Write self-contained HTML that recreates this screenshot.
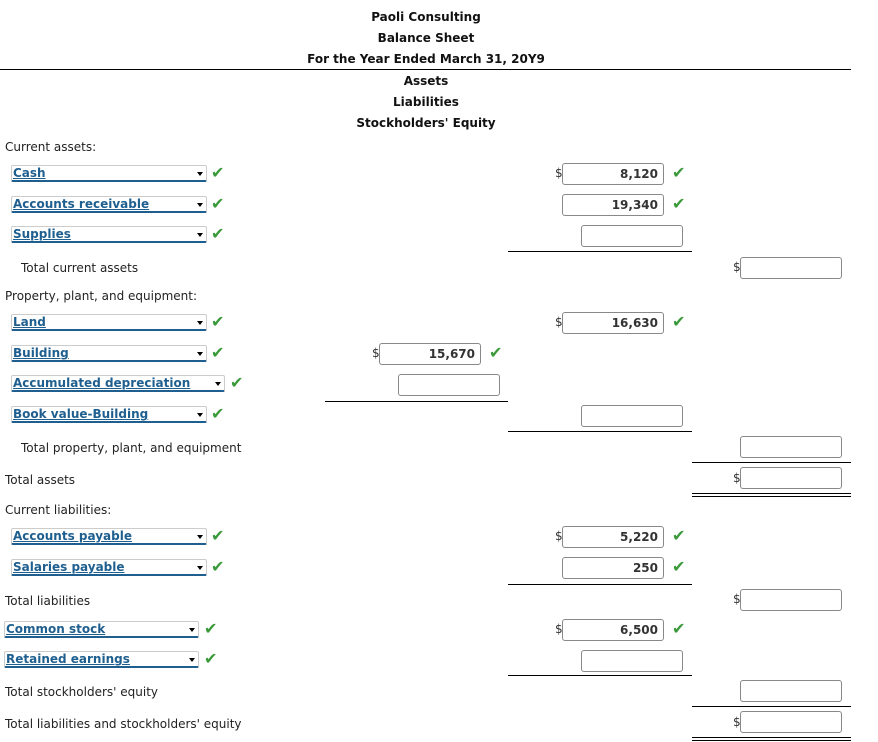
<!DOCTYPE html>
<html><head><meta charset="utf-8"><style>
body{margin:0;width:878px;height:742px;position:relative;background:#fff;font-family:"DejaVu Sans","Liberation Sans",sans-serif;font-size:12px;color:#222;overflow:hidden}
.a{position:absolute;white-space:nowrap;margin-top:1px}
.h{position:absolute;left:0;width:852px;text-align:center;font-weight:bold;font-size:12px;color:#111;margin-top:1px}
.lbl{position:absolute;left:5px}
.dd{position:absolute;border:1px solid #ccc;border-bottom:2px solid #1f5f8f;border-radius:2px;color:#1f5f8f;font-weight:bold;text-decoration:underline;line-height:14px;padding-left:1px;box-sizing:border-box;height:17px}
.dd:after{content:"";position:absolute;right:3px;top:6px;border-left:3px solid transparent;border-right:3px solid transparent;border-top:4px solid #000}
.ck{position:absolute;color:#3a9a3a;font-size:16px;font-weight:bold}
.bx{position:absolute;width:102px;height:22px;border:1px solid #888;border-radius:3px;box-sizing:border-box;text-align:right;padding-right:5px;line-height:20px;font-weight:bold;color:#333;font-size:12px}
.dl{position:absolute;font-size:12px;color:#333}
.ln{position:absolute;height:0;border-top:1.5px solid #000}
</style></head><body>
<div class="h" style="top:9px">Paoli Consulting</div>
<div class="h" style="top:30px">Balance Sheet</div>
<div class="h" style="top:51px">For the Year Ended March 31, 20Y9</div>
<div class="ln" style="top:69px;left:0;width:851px"></div>
<div class="h" style="top:73px">Assets</div>
<div class="h" style="top:94px">Liabilities</div>
<div class="h" style="top:115px">Stockholders' Equity</div>

<div class="a lbl" style="top:139px">Current assets:</div>
<div class="dd" style="left:11px;top:165px;width:196px">Cash</div><div class="ck" style="left:211px;top:163px">✔</div>
<div class="dl" style="left:555px;top:166px">$</div><div class="bx" style="left:562px;top:163px">8,120</div><div class="ck" style="left:672px;top:163px">✔</div>
<div class="dd" style="left:11px;top:196px;width:196px">Accounts receivable</div><div class="ck" style="left:211px;top:194px">✔</div>
<div class="bx" style="left:562px;top:194px">19,340</div><div class="ck" style="left:672px;top:194px">✔</div>
<div class="dd" style="left:11px;top:226px;width:196px">Supplies</div><div class="ck" style="left:211px;top:224px">✔</div>
<div class="bx" style="left:581px;top:225px"></div>
<div class="ln" style="top:251px;left:508px;width:184px"></div>
<div class="a" style="left:21px;top:260px">Total current assets</div>
<div class="dl" style="left:733px;top:260px">$</div><div class="bx" style="left:740px;top:257px"></div>

<div class="a lbl" style="top:288px">Property, plant, and equipment:</div>
<div class="dd" style="left:11px;top:314px;width:196px">Land</div><div class="ck" style="left:211px;top:312px">✔</div>
<div class="dl" style="left:555px;top:315px">$</div><div class="bx" style="left:562px;top:312px">16,630</div><div class="ck" style="left:672px;top:312px">✔</div>
<div class="dd" style="left:11px;top:345px;width:196px">Building</div><div class="ck" style="left:211px;top:343px">✔</div>
<div class="dl" style="left:372px;top:346px">$</div><div class="bx" style="left:379px;top:343px">15,670</div><div class="ck" style="left:489px;top:343px">✔</div>
<div class="dd" style="left:11px;top:375px;width:214px">Accumulated depreciation</div><div class="ck" style="left:230px;top:373px">✔</div>
<div class="bx" style="left:398px;top:374px"></div>
<div class="ln" style="top:401px;left:325px;width:183px"></div>
<div class="dd" style="left:11px;top:406px;width:196px">Book value-Building</div><div class="ck" style="left:211px;top:404px">✔</div>
<div class="bx" style="left:581px;top:405px"></div>
<div class="ln" style="top:431px;left:508px;width:184px"></div>
<div class="a" style="left:21px;top:440px">Total property, plant, and equipment</div>
<div class="bx" style="left:740px;top:436px"></div>
<div class="ln" style="top:462px;left:692px;width:159px"></div>
<div class="a lbl" style="top:472px">Total assets</div>
<div class="dl" style="left:733px;top:471px">$</div><div class="bx" style="left:740px;top:467px"></div>
<div class="ln" style="top:493px;left:692px;width:159px"></div><div class="ln" style="top:496px;left:692px;width:159px"></div>

<div class="a lbl" style="top:502px">Current liabilities:</div>
<div class="dd" style="left:11px;top:528px;width:196px">Accounts payable</div><div class="ck" style="left:211px;top:526px">✔</div>
<div class="dl" style="left:555px;top:529px">$</div><div class="bx" style="left:562px;top:526px">5,220</div><div class="ck" style="left:672px;top:526px">✔</div>
<div class="dd" style="left:11px;top:559px;width:196px">Salaries payable</div><div class="ck" style="left:211px;top:557px">✔</div>
<div class="bx" style="left:562px;top:557px">250</div><div class="ck" style="left:672px;top:557px">✔</div>
<div class="ln" style="top:584px;left:508px;width:184px"></div>
<div class="a lbl" style="top:593px">Total liabilities</div>
<div class="dl" style="left:733px;top:592px">$</div><div class="bx" style="left:740px;top:589px"></div>
<div class="dd" style="left:4px;top:621px;width:195px">Common stock</div><div class="ck" style="left:204px;top:619px">✔</div>
<div class="dl" style="left:555px;top:622px">$</div><div class="bx" style="left:562px;top:619px">6,500</div><div class="ck" style="left:672px;top:619px">✔</div>
<div class="dd" style="left:4px;top:651px;width:195px">Retained earnings</div><div class="ck" style="left:204px;top:649px">✔</div>
<div class="bx" style="left:581px;top:650px"></div>
<div class="ln" style="top:675px;left:508px;width:184px"></div>
<div class="a lbl" style="top:684px">Total stockholders' equity</div>
<div class="bx" style="left:740px;top:680px"></div>
<div class="ln" style="top:706px;left:692px;width:159px"></div>
<div class="a lbl" style="top:716px">Total liabilities and stockholders' equity</div>
<div class="dl" style="left:733px;top:715px">$</div><div class="bx" style="left:740px;top:711px"></div>
<div class="ln" style="top:737px;left:692px;width:159px"></div><div class="ln" style="top:740px;left:692px;width:159px"></div>
</body></html>
